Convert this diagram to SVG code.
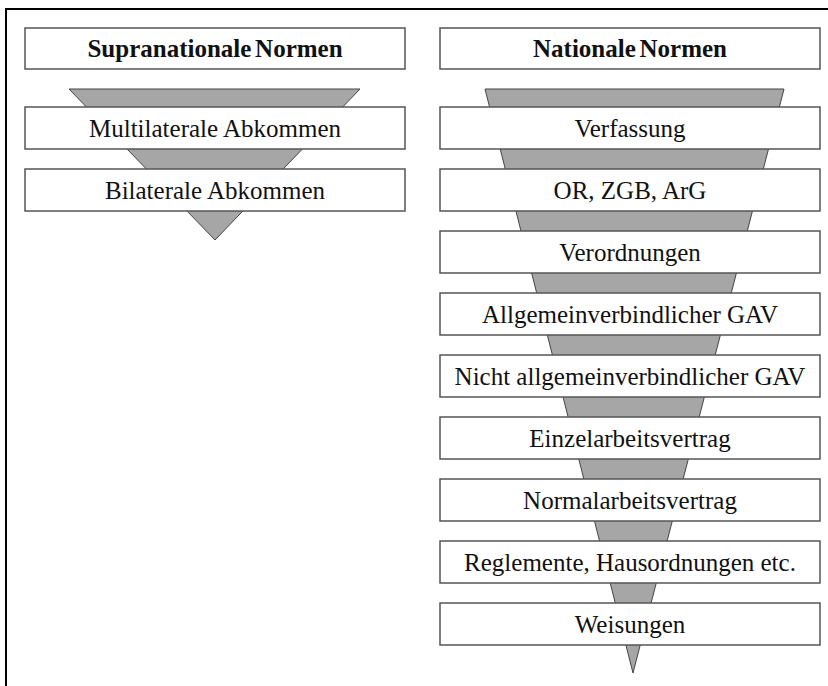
<svg xmlns="http://www.w3.org/2000/svg" width="828" height="686" viewBox="0 0 828 686">
<style>
.frame{fill:none;stroke:#000;stroke-width:2}
.box{fill:#fff;stroke:#555;stroke-width:1.5}
.funnel{fill:#a6a6a6;stroke:#444;stroke-width:1}
.t{font-family:"Liberation Serif","Times New Roman",serif;font-size:25px;fill:#111;text-anchor:middle}
.h{font-weight:bold;word-spacing:-2.5px}
</style>
<rect class="frame" x="6" y="9" width="830" height="690"/>
<g id="connectors">
<polygon class="funnel" points="69,89 360,89 215,240"/>
<polygon class="funnel" points="485,89 784,89 633,673"/>
</g>
<g id="supranational-title"><rect class="box" x="25" y="28" width="380" height="41"/><text class="t h" x="215" y="57">Supranationale Normen</text></g>
<g id="multilateral"><rect class="box" x="25" y="107" width="380" height="42"/><text class="t" x="215" y="137">Multilaterale Abkommen</text></g>
<g id="bilateral"><rect class="box" x="25" y="169" width="380" height="42"/><text class="t" x="215" y="199">Bilaterale Abkommen</text></g>
<g id="national-title"><rect class="box" x="440" y="28" width="380" height="41"/><text class="t h" x="630" y="57">Nationale Normen</text></g>
<g id="verfassung"><rect class="box" x="440" y="107" width="380" height="42"/><text class="t" x="630" y="137">Verfassung</text></g>
<g id="or-zgb-arg"><rect class="box" x="440" y="169" width="380" height="42"/><text class="t" x="630" y="199">OR, ZGB, ArG</text></g>
<g id="verordnungen"><rect class="box" x="440" y="231" width="380" height="42"/><text class="t" x="630" y="261">Verordnungen</text></g>
<g id="allg-gav"><rect class="box" x="440" y="293" width="380" height="42"/><text class="t" x="630" y="323">Allgemeinverbindlicher GAV</text></g>
<g id="nicht-allg-gav"><rect class="box" x="440" y="355" width="380" height="42"/><text class="t" x="630" y="385">Nicht allgemeinverbindlicher GAV</text></g>
<g id="einzelarbeitsvertrag"><rect class="box" x="440" y="417" width="380" height="42"/><text class="t" x="630" y="447">Einzelarbeitsvertrag</text></g>
<g id="normalarbeitsvertrag"><rect class="box" x="440" y="479" width="380" height="42"/><text class="t" x="630" y="509">Normalarbeitsvertrag</text></g>
<g id="reglemente"><rect class="box" x="440" y="541" width="380" height="42"/><text class="t" x="630" y="571">Reglemente, Hausordnungen etc.</text></g>
<g id="weisungen"><rect class="box" x="440" y="603" width="380" height="42"/><text class="t" x="630" y="633">Weisungen</text></g>
</svg>
